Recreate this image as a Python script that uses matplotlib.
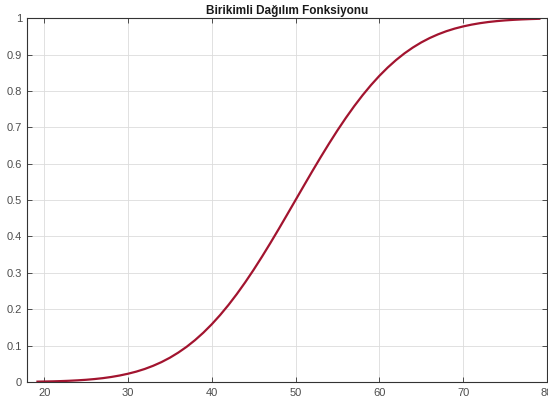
import matplotlib
matplotlib.use("Agg")
import matplotlib.pyplot as plt

# values
x_vals = [19.2, 21, 22, 23, 24, 25, 26, 27, 28, 29, 30, 31, 32, 33, 34, 35, 36, 37, 38, 39,
          40, 41, 42, 43, 44, 45, 46, 47, 48, 49, 50, 51, 52, 53, 54, 55, 56, 57, 58, 59,
          60, 61, 62, 63, 64, 65, 66, 67, 68, 69, 70, 71, 72, 73, 74, 75, 76, 77, 78, 79.1]
y_vals = [0.0011, 0.0019, 0.0026, 0.0035, 0.0047, 0.0062, 0.0082, 0.0107, 0.0139, 0.0179,
          0.0228, 0.0287, 0.0359, 0.0446, 0.0548, 0.0668, 0.0808, 0.0968, 0.1151, 0.1357,
          0.1587, 0.1841, 0.2119, 0.2420, 0.2743, 0.3085, 0.3446, 0.3821, 0.4207, 0.4602,
          0.5000, 0.5398, 0.5793, 0.6179, 0.6554, 0.6915, 0.7257, 0.7580, 0.7881, 0.8159,
          0.8413, 0.8643, 0.8849, 0.9032, 0.9192, 0.9332, 0.9452, 0.9554, 0.9641, 0.9713,
          0.9772, 0.9821, 0.9861, 0.9893, 0.9918, 0.9938, 0.9953, 0.9965, 0.9974, 0.9982]
x_ticks = [20, 30, 40, 50, 60, 70, 80]
y_ticks = [0, 0.1, 0.2, 0.3, 0.4, 0.5, 0.6, 0.7, 0.8, 0.9, 1]
y_tick_labels = ["0", "0.1", "0.2", "0.3", "0.4", "0.5", "0.6", "0.7", "0.8", "0.9", "1"]
title = "Birikimli Dağılım Fonksiyonu"

plt.rcParams['font.family'] = ['Liberation Sans', 'DejaVu Sans']

fig = plt.figure(figsize=(5.48, 4.03), dpi=100)
ax = fig.add_axes([0.05, 0.052, 0.948, 0.903])
ax.plot(x_vals, y_vals, color='#A2142F', linewidth=1.6)
ax.set_xlim(18, 80)
ax.set_ylim(0, 1)
ax.set_xticks(x_ticks)
ax.set_yticks(y_ticks)
ax.set_yticklabels(y_tick_labels)
ax.grid(True, color='#dcdcdc', linewidth=0.6)
ax.set_axisbelow(True)
ax.tick_params(direction='in', top=True, right=True, length=3.5, width=0.6,
               labelsize=8, labelcolor='#4d4d4d', color='#333333', pad=4)
for s in ax.spines.values():
    s.set_color('#333333')
    s.set_linewidth(0.8)
ax.set_title(title, fontsize=8.5, fontweight='bold', pad=3, color='#1a1a1a')
fig.savefig("out.png", dpi=100)
